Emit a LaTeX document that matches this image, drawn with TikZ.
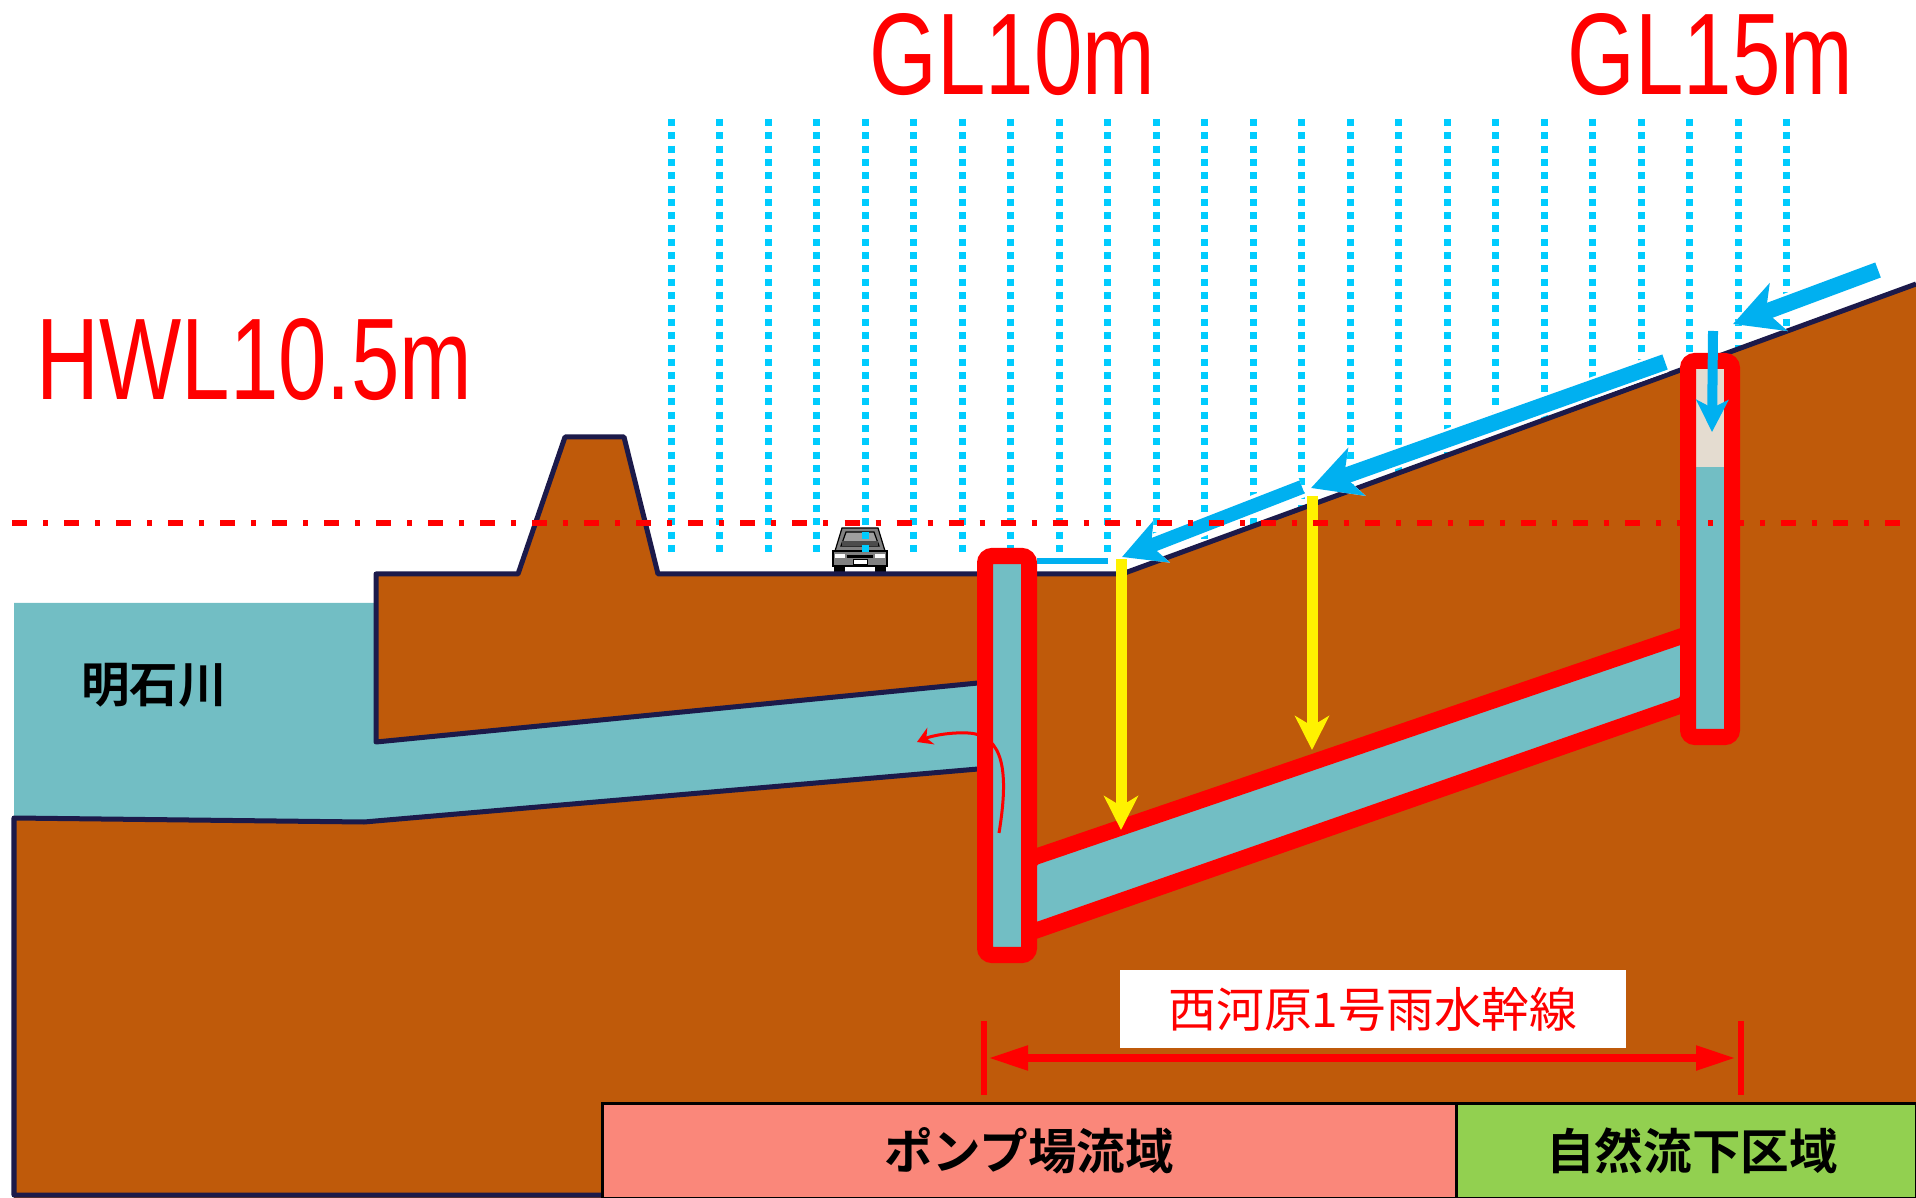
\documentclass[tikz,border=0pt]{standalone}
\usepackage{graphicx}
\usepackage{fontspec}
\setmainfont{Liberation Sans}
\newfontfamily\jpfont{Noto Sans CJK JP}[BoldFont={Noto Sans CJK JP Bold}]
\usepackage{tikz}
\usetikzlibrary{arrows.meta}
\definecolor{soilbrown}{RGB}{191,90,10}
\definecolor{water}{RGB}{114,190,196}
\definecolor{edgenavy}{RGB}{28,26,74}
\definecolor{raincyan}{RGB}{0,204,255}
\definecolor{flowblue}{RGB}{0,176,240}
\definecolor{pumpzone}{RGB}{250,135,122}
\definecolor{gravzone}{RGB}{146,208,80}
\definecolor{airgap}{RGB}{228,220,208}
\definecolor{carbody}{RGB}{128,128,128}

\tikzset{
	rain/.style={draw=raincyan, line width=0.07cm, dash pattern=on 0.07cm off 0.063cm},
	edge/.style={draw=edgenavy, line width=0.05cm, line join=round},
	wall/.style={draw=red, line width=0.16cm, rounded corners=0.07cm},
	runoff/.style={draw=flowblue, line width=0.16cm, -{Stealth[length=0.48cm, width=0.5cm, inset=0.13cm]}, preaction={draw=white, line width=0.21cm}},
	seep/.style={draw=yellow, line width=0.11cm, -{Stealth[length=0.34cm, width=0.34cm, inset=0.1cm]}},
	hwl/.style={draw=red, line width=0.06cm, dash pattern=on 0.15cm off 0.16cm on 0.05cm off 0.16cm},
	zone/.style={draw=black, line width=0.03cm},
	zonelabel/.style={font=\jpfont\bfseries\fontsize{13.8}{16}\selectfont, text=black},
	level/.style={text=red, inner sep=0pt, anchor=base west, font=\fontsize{33}{38}\selectfont},
}

\begin{document}
\begin{tikzpicture}[x=0.01cm, y=-0.01cm]
	\useasboundingbox (0,0) rectangle (1916,1198);

	% car on the road
	\fill[black] (834,565) rectangle (845,572);
	\fill[black] (875,565) rectangle (886,572);
	\filldraw[fill=carbody, draw=black, line width=0.012cm] (842,528) -- (878,528) -- (885,551) -- (835,551) -- cycle;
	\filldraw[fill=gray!75, draw=black, line width=0.012cm] (846,532) -- (874,532) -- (879,546) -- (841,546) -- cycle;
	\fill[black!70] (842,541) rectangle (878,546);
	\filldraw[fill=carbody, draw=black, line width=0.012cm] (833,551) rectangle (887,566);
	\fill[white] (835,554) rectangle (845,558);
	\fill[white] (875,554) rectangle (885,558);
	\fill[black] (847,555) rectangle (873,558);
	\filldraw[fill=white, draw=black, line width=0.01cm] (853,560) rectangle (867,565);

	% rain
	\foreach \i in {0,...,23}
		\draw[rain] ({671+48.5*\i},119) -- ++(0,437);

	% ground and river
	\fill[soilbrown] (376,574) -- (518,574) -- (565,437) -- (624,437) -- (658,574) -- (1122,574) -- (1916,284) -- (1916,1198) -- (14,1198) -- (14,818) -- (376,818) -- cycle;
	\fill[water] (14,603) -- (376,603) -- (376,742) -- (978,683) -- (978,769) -- (364,822) -- (14,818) -- cycle;
	\draw[edge] (978,683) -- (376,742) -- (376,574) -- (518,574) -- (565,437) -- (624,437) -- (658,574) -- (1122,574) -- (1916,284);
	\draw[edge] (978,769) -- (364,822) -- (14,818) -- (14,1195) -- (602,1195);

	% shafts and trunk sewer
	\draw[wall, fill=water] (985,556) rectangle (1029,955);
	\draw[wall, fill=water] (1029,859) -- (1688,634) -- (1688,703) -- (1029,933) -- cycle;
	\fill[water] (1688,361) rectangle (1732,737);
	\fill[airgap] (1696,369) rectangle (1726,467);
	\draw[wall] (1688,361) rectangle (1732,737);

	% surface runoff
	\coordinate (r1s) at (1878,270);
	\coordinate (r1e) at (1733,324);
	\coordinate (r2s) at (1665,362);
	\coordinate (r2e) at (1311,488);
	\coordinate (r3s) at (1302,487);
	\coordinate (r3e) at (1122,557);
	\coordinate (r4s) at (1713,331);
	\coordinate (r4e) at (1712,432);
	\coordinate (r5s) at (1108,561);
	\coordinate (r5e) at (1037,561);
	\draw[runoff] (r1s) -- (r1e);
	\draw[runoff] (r2s) -- (r2e);
	\draw[runoff, line width=0.14cm, -{Stealth[length=0.42cm, width=0.44cm, inset=0.11cm]}] (r3s) -- (r3e);
	\draw[draw=flowblue, line width=0.1cm, -{Stealth[length=0.32cm, width=0.32cm, inset=0.08cm]}] (r4s) -- (r4e);
	\draw[draw=flowblue, line width=0.065cm] (r5s) -- (r5e);

	% inflow to the trunk sewer
	\coordinate (y1s) at (1121,559);
	\coordinate (y1e) at (1121,830);
	\coordinate (y2s) at (1312,496);
	\coordinate (y2e) at (1312,750);
	\draw[seep] (y1s) -- (y1e);
	\draw[seep] (y2s) -- (y2e);

	% discharge to the river
	\coordinate (p1) at (999,833);
	\coordinate (p2) at (917,742);
	\draw[red, line width=0.03cm, -{Stealth[length=0.15cm, width=0.18cm]}] (p1) .. controls (1009,772) and (1004,735) .. (968,733) .. controls (950,732) and (931,736) .. (p2);

	% high water level
	\coordinate (hwlL) at (12,523);
	\coordinate (hwlR) at (1916,523);
	\draw[hwl] (hwlL) -- (hwlR);

	% catchment zones
	\draw[zone, fill=pumpzone] (602,1103) rectangle (1456,1198);
	\draw[zone, fill=gravzone] (1456,1103) rectangle (1916,1198);
	\node[zonelabel] (pump) at (1029,1151) {ポンプ場流域};
	\node[zonelabel] (grav) at (1692,1151) {自然流下区域};

	% extent of the trunk sewer
	\coordinate (dimL) at (988,1058);
	\coordinate (dimR) at (1736,1058);
	\draw[red, line width=0.065cm] (984,1021) -- (984,1095);
	\draw[red, line width=0.065cm] (1741,1021) -- (1741,1095);
	\draw[red, line width=0.08cm, {Triangle[length=0.4cm, width=0.23cm]}-{Triangle[length=0.4cm, width=0.23cm]}] (dimL) -- (dimR);
	\node[fill=white, minimum width=5.05cm, minimum height=0.78cm, inner sep=0pt, text=red, font=\jpfont\fontsize{13.6}{16}\selectfont] (trunk) at (1373,1009) {西河原1号雨水幹線};

	\node[zonelabel] (river) at (154,685) {明石川};

	\node[level] (hwl) at (36,400) {\scalebox{0.75}[1]{HWL10.5m}};
	\node[level] (gl10) at (869,95) {\scalebox{0.75}[1]{GL10m}};
	\node[level] (gl15) at (1567,95) {\scalebox{0.75}[1]{GL15m}};
\end{tikzpicture}
\end{document}
